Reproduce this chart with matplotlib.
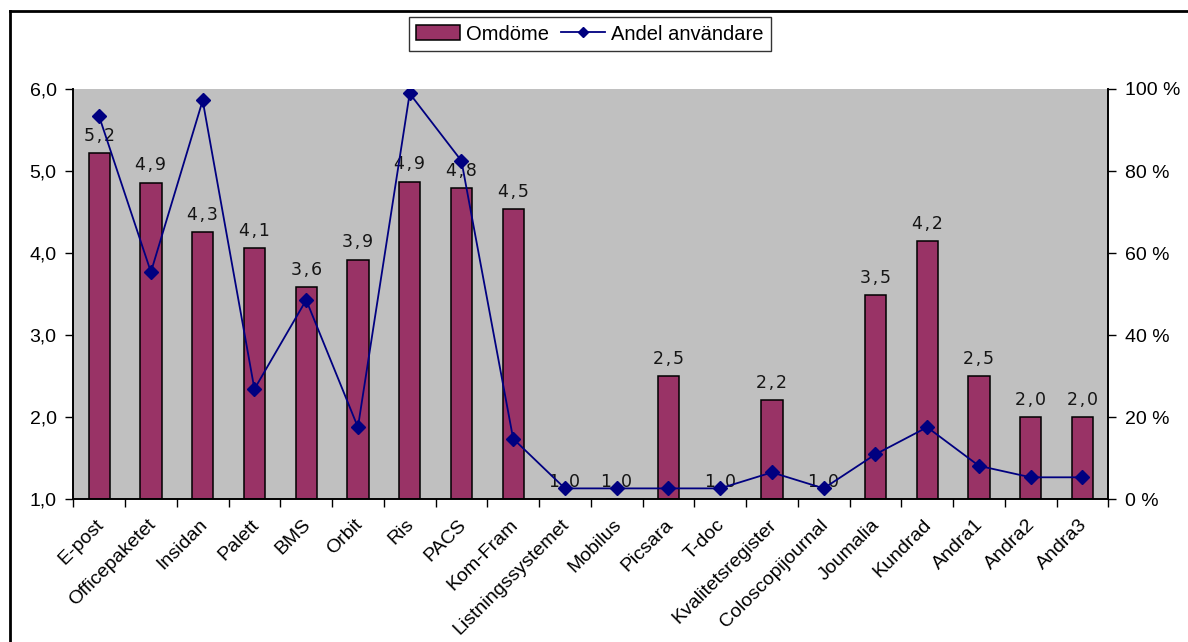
import matplotlib.pyplot as plt
import matplotlib.lines as mlines
import numpy as np

# data
categories = ['E-post', 'Officepaketet', 'Insidan', 'Palett', 'BMS', 'Orbit', 'Ris', 'PACS',
              'Kom-Fram', 'Listningssystemet', 'Mobilus', 'Picsara', 'T-doc', 'Kvalitetsregister',
              'Coloscopijournal', 'Joumalia', 'Kundrad', 'Andra1', 'Andra2', 'Andra3']
omdome = [5.22, 4.86, 4.26, 4.06, 3.59, 3.92, 4.87, 4.79, 4.54, 1.0,
          1.0, 2.50, 1.0, 2.21, 1.0, 3.49, 4.15, 2.50, 2.0, 2.0]
andel = [93.3, 55.4, 97.2, 26.9, 48.6, 17.6, 98.9, 82.5, 14.8, 2.7,
         2.7, 2.7, 2.7, 6.6, 2.7, 11.0, 17.6, 8.2, 5.4, 5.4]
left_ticks = [1, 2, 3, 4, 5, 6]
right_ticks = [0, 20, 40, 60, 80, 100]

bar_color = '#993366'
line_color = '#000080'
plt.rcParams['font.family'] = ['Liberation Sans', 'DejaVu Sans']

fig = plt.figure(figsize=(11.88, 6.42), dpi=100)
ax = fig.add_axes([0.0617, 0.2220, 0.8712, 0.6394])
ax.set_facecolor('#C0C0C0')

x = np.arange(len(categories))
ax.bar(x, np.array(omdome) - 1, bottom=1, width=0.41, color=bar_color,
       edgecolor='black', linewidth=1.1, zorder=2)
for xi, v in zip(x, omdome):
    ax.annotate(f'{v:.1f}'.replace('.', '\u200a,\u200a'), (xi, v), xytext=(0, 6),
                textcoords='offset points', ha='center', va='bottom', fontsize=12.5,
                family='DejaVu Sans', color='#151515', zorder=5)

ax.set_xlim(-0.5, len(categories) - 0.5)
ax.set_ylim(1, 6)
ax.set_yticks(left_ticks)
ax.set_yticklabels([f'{t},0' for t in left_ticks], fontsize=14)
ax.set_xticks(np.arange(len(categories) + 1) - 0.5)
ax.set_xticklabels([])
ax.set_xticks(x - 0.08, minor=True)
ax.set_xticklabels(categories, minor=True, rotation=45, ha='right', rotation_mode='anchor',
                   fontsize=14)
ax.tick_params(axis='x', which='minor', length=0, pad=12)
ax.tick_params(axis='x', which='major', length=6, direction='out', width=1)
ax.tick_params(axis='y', length=6, width=1, pad=6)
ax.spines['top'].set_visible(False)
for s in ['left', 'bottom', 'right']:
    ax.spines[s].set_linewidth(1.2)

ax2 = ax.twinx()
ax2.plot(x, andel, color=line_color, linewidth=1.3, marker='D', markersize=7, zorder=4)
ax2.set_ylim(0, 100)
ax2.set_yticks(right_ticks)
ax2.set_yticklabels([f'{t} %' for t in right_ticks], fontsize=14)
ax2.tick_params(axis='y', length=6, width=1, pad=6)
ax2.spines['top'].set_visible(False)
for s in ['left', 'bottom', 'right']:
    ax2.spines[s].set_linewidth(1.2)

bar_handle = plt.Rectangle((0, 0), 1, 1, facecolor=bar_color, edgecolor='black', linewidth=1.1)
line_handle = mlines.Line2D([], [], color=line_color, marker='D', markersize=5.5, linewidth=1.3)
leg = fig.legend([bar_handle, line_handle], ['Omdöme', 'Andel användare'], loc='center',
                 bbox_to_anchor=(0.4965, 0.947), ncol=2, fontsize=14.5, frameon=True, fancybox=False,
                 edgecolor='black', handlelength=2.2, handleheight=0.75, columnspacing=0.6,
                 handletextpad=0.3, borderpad=0.35, borderaxespad=0)
leg.get_frame().set_linewidth(1.0)

# outer frame of the chart area
fig.add_artist(mlines.Line2D([10 / 1188, 1.0], [1 - 11 / 642, 1 - 11 / 642], color='black',
                             linewidth=2, transform=fig.transFigure))
fig.add_artist(mlines.Line2D([10 / 1188, 10 / 1188], [0, 1 - 11 / 642], color='black',
                             linewidth=2, transform=fig.transFigure))

fig.savefig('out.png', dpi=100)
